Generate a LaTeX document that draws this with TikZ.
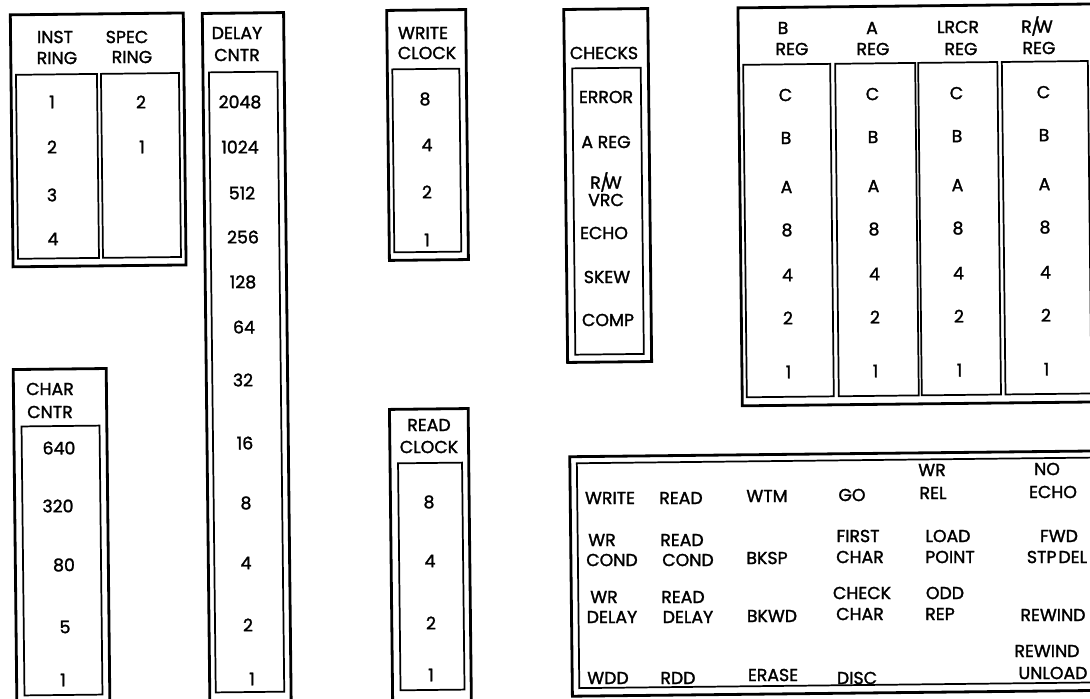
\documentclass[tikz,border=0pt]{standalone}
\usepackage{fontspec}
\setmainfont{Poppins}[RawFeature={embolden=1.6}]
\newcounter{lblc}
\newcommand{\plab}[3]{\stepcounter{lblc}\node[lbl] (t\arabic{lblc}) at (#1,#2) {#3};}
\newcommand{\rwtxt}{R\kern-0.4pt/\kern-2.8pt W}
\tikzset{
  outerbox/.style={draw=black, line width=2.1pt},
  innerbox/.style={draw=black, line width=1.3pt},
  lbl/.style={inner sep=0pt, font=\fontsize{13}{15}\selectfont, text=black},
}
\begin{document}
\begin{tikzpicture}[x=0.75pt,y=-0.75pt]
\useasboundingbox (0,0) rectangle (1090,699);
\fill[white] (0,0) rectangle (1090,699);
\clip (0,0) rectangle (1090,699);
% ---------- frames (drawn square, then turned slightly like the scan)
\begin{scope}[rotate around={0.63:(545,350)}]
  % INST / SPEC RING
  \draw[outerbox] (14,9) rectangle (187,261);
  \draw[innerbox] (19,69) rectangle (100,253);
  \draw[innerbox] (104,69) rectangle (182,253);
  % DELAY CNTR
  \draw[outerbox] (206,9.7) rectangle (287.3,712);
  \draw[innerbox] (212,68.7) rectangle (280.5,688.8);
  % CHAR CNTR
  \draw[outerbox] (13,363.7) rectangle (106,712);
  \draw[innerbox] (20.7,420.7) rectangle (98.7,689.7);
  % WRITE CLOCK
  \draw[outerbox] (390.4,8.7) rectangle (469.4,258.7);
  \draw[innerbox] (395.4,67.7) rectangle (462.4,250.7);
  % READ CLOCK
  \draw[outerbox] (388.8,407.7) rectangle (467.5,712);
  \draw[innerbox] (396.8,461.7) rectangle (460.8,688.7);
  % CHECKS
  \draw[outerbox] (567.5,9.7) rectangle (651.5,362.7);
  \draw[innerbox] (575.3,68.7) rectangle (643.8,355);
  % REGISTERS
  \draw[outerbox] (741.7,10) rectangle (1105,408);
  \draw[innerbox] (746.3,67) rectangle (833.3,399.5);
  \draw[innerbox] (838.3,67) rectangle (918.3,399.5);
  \draw[innerbox] (921.3,67) rectangle (1000.5,399.5);
  \draw[innerbox] (1005,67) rectangle (1091,399.5);
  % STATUS PANEL
  \draw[outerbox] (568.6,457) rectangle (1110,696.5);
  \draw[innerbox] (575.6,463.6) rectangle (1104,688.5);
\end{scope}
% ---------- INST / SPEC RING
\plab{55}{37}{INST}
\plab{57}{58}{RING}
\plab{127}{37}{SPEC}
\plab{132}{57}{RING}
\plab{52}{102}{1}
\plab{52}{147}{2}
\plab{52}{195}{3}
\plab{53}{239}{4}
\plab{141}{102}{2}
\plab{142}{147}{1}
% ---------- DELAY CNTR
\plab{237}{33}{DELAY}
\plab{237}{55}{CNTR}
\plab{240}{102}{2048}
\plab{240}{147}{1024}
\plab{242}{193}{512}
\plab{243}{237}{256}
\plab{243}{282}{128}
\plab{244}{327}{64}
\plab{243}{380}{32}
\plab{245}{443}{16}
\plab{246}{503}{8}
\plab{246}{563}{4}
\plab{248}{625}{2}
\plab{252}{679}{1}
% ---------- WRITE CLOCK
\plab{423}{33}{WRITE}
\plab{427}{53}{CLOCK}
\plab{425}{99}{8}
\plab{427}{145}{4}
\plab{427}{192}{2}
\plab{427}{240}{1}
% ---------- CHECKS
\plab{604}{53}{CHECKS}
\plab{606}{97}{ERROR}
\plab{606}{142}{A REG}
\plab{606}{182}{\rwtxt}
\plab{606}{200}{VRC}
\plab{604}{233}{ECHO}
\plab{607}{277}{SKEW}
\plab{608}{320}{COMP}
% ---------- REGISTERS
\plab{783}{28}{B}
\plab{792}{49}{REG}
\plab{872}{28}{A}
\plab{873}{49}{REG}
\plab{958}{27}{LRCR}
\plab{961}{49}{REG}
\plab{1037}{26}{\rwtxt}
\plab{1039}{48}{REG}
\foreach \col/\cx in {b/787, a/874, l/958, r/1045} {
  \foreach \t/\ry [count=\k] in {C/95, B/138, A/187, 8/230, 4/275, 2/318, 1/372} {
    \node[lbl] (\col\k) at ({\cx+0.011*(\ry-230)}, {\ry-0.011*(\cx-787)}) {\t};
  }
}
% ---------- CHAR CNTR
\plab{50}{389}{CHAR}
\plab{50}{412}{CNTR}
\plab{59}{448}{640}
\plab{58}{506}{320}
\plab{64}{565}{80}
\plab{65}{627}{5}
\plab{63}{680}{1}
% ---------- READ CLOCK
\plab{429}{425}{READ}
\plab{429}{447}{CLOCK}
\plab{429}{502}{8}
\plab{430}{561}{4}
\plab{431}{623}{2}
\plab{431}{675}{1}
% ---------- STATUS PANEL
\plab{610}{498}{WRITE}
\plab{681}{498}{READ}
\plab{767}{496}{WTM}
\plab{852}{495}{GO}
\plab{932}{470}{WR}
\plab{933}{493}{REL}
\plab{1047}{469}{NO}
\plab{1053}{492}{ECHO}
\plab{602}{540}{WR}
\plab{612}{560}{COND}
\plab{682}{540}{READ}
\plab{688}{560}{COND}
\plab{767}{558}{BKSP}
\plab{858}{536}{FIRST}
\plab{860}{557}{CHAR}
\plab{948}{536}{LOAD}
\plab{950}{557}{POINT}
\plab{1059}{536}{FWD}
\plab{1057}{557}{STP\kern1.5pt DEL}
\plab{604}{597}{WR}
\plab{612}{617}{DELAY}
\plab{683}{597}{READ}
\plab{688}{617}{DELAY}
\plab{772}{616}{BKWD}
\plab{862}{593}{CHECK}
\plab{860}{614}{CHAR}
\plab{945}{593}{ODD}
\plab{940}{614}{REP}
\plab{1053}{615}{REWIND}
\plab{608}{678}{WDD}
\plab{678}{678}{RDD}
\plab{773}{675}{ERASE}
\plab{857}{678}{DISC}
\plab{1047}{651}{REWIND}
\plab{1053}{673}{UNLOAD}
\end{tikzpicture}
\end{document}
